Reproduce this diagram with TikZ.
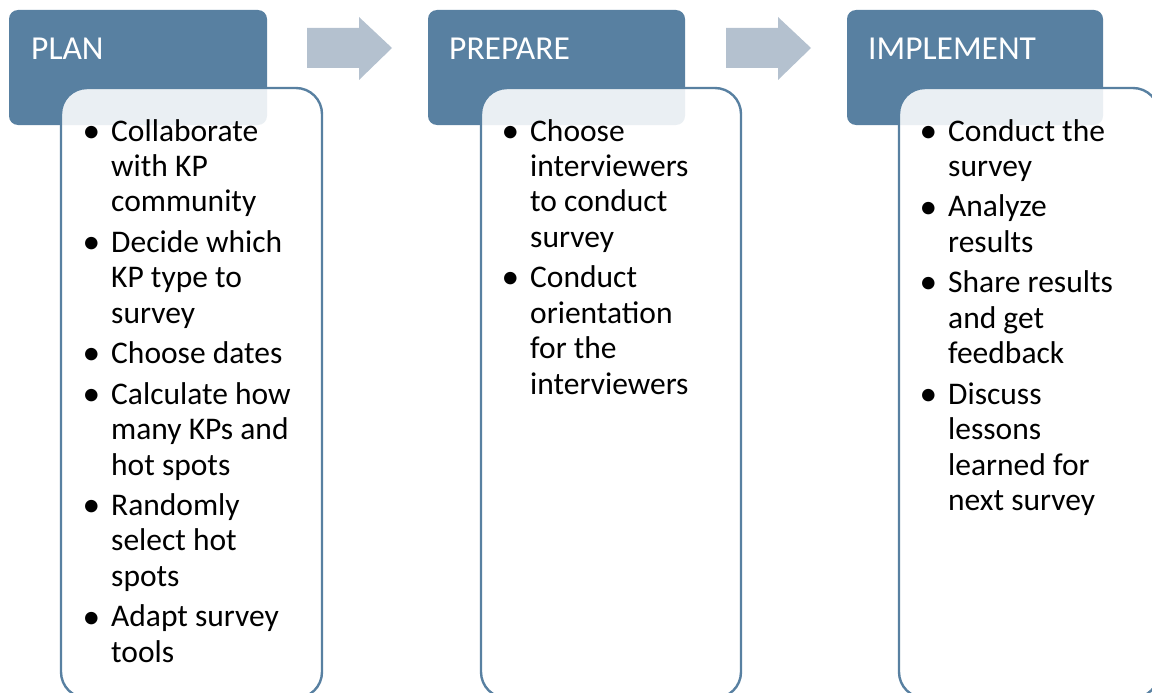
\documentclass[tikz,border=0pt]{standalone}
\usepackage{fontspec}
\setmainfont{Carlito}
\definecolor{hdrblue}{HTML}{5880A1}
\definecolor{arrowgray}{HTML}{B4C1CF}
\tikzset{
  header/.style={fill=hdrblue, rounded corners=9pt},
  panel/.style={draw=hdrblue, line width=2.4pt, fill=white, fill opacity=0.88, rounded corners=26pt},
  headtext/.style={text=white, font=\fontsize{33.5}{40}\selectfont, anchor=base west, inner sep=0pt},
  listtext/.style={anchor=base west, inner sep=0pt, text=black},
  blockarrow/.style={fill=arrowgray}
}
% bulleted step list: first item, following items
\newcommand{\steplist}[1]{\parbox[t]{250pt}{\fontsize{31.5}{35.45}\selectfont\raggedright #1}}
\newcommand{\stepbullet}{\llap{\raisebox{-1.2pt}{\scalebox{1.12}{•}}\hspace{11pt}}}
\newcommand{\fitem}{\noindent\stepbullet}
\newcommand{\bitem}{\par\vspace{5pt}\noindent\stepbullet}
\begin{document}
\begin{tikzpicture}[x=1pt, y=-1pt]
  \useasboundingbox (0,0) rectangle (1152,693);

  % block arrows between the stages
  \fill[blockarrow] (307,28) -- (359,28) -- (359,17) -- (392,48) -- (359,80) -- (359,68) -- (307,68) -- cycle;
  \fill[blockarrow] (726,28) -- (778,28) -- (778,17) -- (811,48) -- (778,80) -- (778,68) -- (726,68) -- cycle;

  % PLAN
  \fill[header] (9,10) rectangle (267,125);
  \path[panel] (61,88) rectangle (322,698);
  \node[headtext] (plan-head) at (31,60) {PLAN};
  \node[listtext] (plan-list) at (111,141) {\steplist{%
    \fitem Collaborate\\with KP\\community
    \bitem Decide which\\KP type to\\survey
    \bitem Choose dates
    \bitem Calculate how\\many KPs and\\hot spots
    \bitem Randomly\\select hot\\spots
    \bitem Adapt survey\\tools}};

  % PREPARE
  \fill[header] (428,10) rectangle (685,125);
  \path[panel] (481,88) rectangle (741,698);
  \node[headtext] (prep-head) at (449,60) {PREPARE};
  \node[listtext] (prep-list) at (530,141) {\steplist{%
    \fitem Choose\\interviewers\\to conduct\\survey
    \bitem Conduct\\orientation\\for the\\interviewers}};

  % IMPLEMENT
  \fill[header] (847,10) rectangle (1103,125);
  \path[panel] (899,88) rectangle (1159,698);
  \node[headtext] (impl-head) at (868,60) {IMPLEMENT};
  \node[listtext] (impl-list) at (948,141) {\steplist{%
    \fitem Conduct the\\survey
    \bitem Analyze\\results
    \bitem Share results\\and get\\feedback
    \bitem Discuss\\lessons\\learned for\\next survey}};
\end{tikzpicture}
\end{document}
